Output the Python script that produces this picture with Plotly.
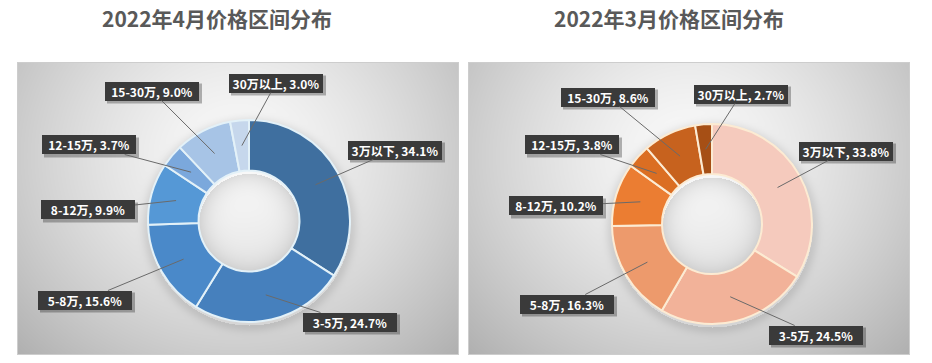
import base64, struct, zlib, math
import numpy as np
import plotly.graph_objects as go

# ---------------- data ----------------
categories = ["3万以下", "3-5万", "5-8万", "8-12万", "12-15万", "15-30万", "30万以上"]
apr_values = [34.1, 24.7, 15.6, 9.9, 3.7, 9.0, 3.0]
mar_values = [33.8, 24.5, 16.3, 10.2, 3.8, 8.6, 2.7]
titles = ["2022年4月价格区间分布", "2022年3月价格区间分布"]

# ---------------- style / layout ----------------
W, H = 932, 363
blue_colors = ["#3F6F9F", "#4680BD", "#4A89C9", "#5598D6", "#7BA8DC", "#A7C4E6", "#C6D7EC"]
orange_colors = ["#F5CABD", "#F2B299", "#ED9A6C", "#EB7D32", "#DB6E22", "#C7621E", "#A64F15"]
HOLE = 0.5

panels = [
    dict(values=apr_values, colors=blue_colors, border="#E3F1F8", title=titles[0],
         title_xy=(217, 18), box=(17, 62, 458, 354), center=(249, 221), R=101,
         labels_xy=[(395, 150), (350, 322), (85, 300), (88, 210), (89, 145), (152, 91), (276, 83)]),
    dict(values=mar_values, colors=orange_colors, border="#FCEBD3", title=titles[1],
         title_xy=(669, 18), box=(468, 62, 909, 354), center=(712, 224), R=100,
         labels_xy=[(846, 151), (816, 335), (567, 304), (556, 206), (572, 145), (608, 97), (741, 94)]),
]

# ---------------- background image (gradient boxes) ----------------
img = np.full((H, W, 3), 255.0)
yy, xx = np.mgrid[0:H, 0:W].astype(float)
for p in panels:
    x0, y0, x1, y1 = p["box"]
    bw, bh = x1 - x0, y1 - y0
    cx, cy = x0 + bw * 0.5, y0 + bh * 0.32
    d = np.sqrt(((xx - cx) / (bw * 0.62)) ** 2 + ((yy - cy) / (bh * 0.85)) ** 2)
    val = 250 - 62 * np.clip(d, 0, 1.2) ** 1.4
    pcx, pcy = p["center"]
    r = np.sqrt((xx - pcx) ** 2 + (yy - pcy - 3) ** 2)
    R = p["R"]
    outer = np.where(r > R, 22 * np.exp(-((r - R) / 7.0) ** 2), 0)
    rin = R * HOLE
    inner = np.where(r < rin, 28 * (np.clip(r / rin, 0, 1) ** 4), 0)
    val = val - outer - inner
    mask = (xx >= x0) & (xx <= x1) & (yy >= y0) & (yy <= y1)
    for c in range(3):
        img[..., c] = np.where(mask, val, img[..., c])
    edge = mask & ((xx == x0) | (xx == x1) | (yy == y0) | (yy == y1))
    for c in range(3):
        img[..., c] = np.where(edge, 205, img[..., c])
img = np.clip(img, 0, 255).astype(np.uint8)


def to_png(arr):
    h, w, _ = arr.shape
    raw = b"".join(b"\x00" + arr[i].tobytes() for i in range(h))

    def chunk(t, data):
        c = struct.pack(">I", len(data)) + t + data
        return c + struct.pack(">I", zlib.crc32(t + data) & 0xFFFFFFFF)

    return (b"\x89PNG\r\n\x1a\n" + chunk(b"IHDR", struct.pack(">IIBBBBB", w, h, 8, 2, 0, 0, 0))
            + chunk(b"IDAT", zlib.compress(raw, 9)) + chunk(b"IEND", b""))


bg_uri = "data:image/png;base64," + base64.b64encode(to_png(img)).decode()

# ---------------- figure ----------------
fig = go.Figure()
annotations = []
shapes = []
FONT = "Noto Sans CJK SC, Noto Sans, sans-serif"
LW, LH = 94, 19

for p in panels:
    cx, cy = p["center"]
    R = p["R"]
    fig.add_trace(go.Pie(
        labels=categories, values=p["values"], hole=HOLE, sort=False,
        direction="clockwise", rotation=0, textinfo="none", hoverinfo="label+value",
        marker=dict(colors=p["colors"], line=dict(color=p["border"], width=2)),
        domain=dict(x=[(cx - R) / W, (cx + R) / W], y=[1 - (cy + R) / H, 1 - (cy - R) / H]),
        showlegend=False,
    ))
    tx, ty = p["title_xy"]
    annotations.append(dict(
        text="<b>" + p["title"] + "</b>", x=tx / W, y=1 - ty / H, xref="paper", yref="paper",
        showarrow=False, font=dict(family=FONT, size=21, color="#595959"),
        xanchor="center", yanchor="middle"))
    total = sum(p["values"])
    cum = 0.0
    rmid = R * (1 + HOLE) / 2
    for cat, v, (lx, ly) in zip(categories, p["values"], p["labels_xy"]):
        ang = 2 * math.pi * (cum + v / 2) / total
        cum += v
        px = cx + rmid * math.sin(ang)
        py = cy - rmid * math.cos(ang)
        shapes.append(dict(type="rect", xref="paper", yref="paper",
                           x0=(lx - LW / 2 + 2) / W, x1=(lx + LW / 2 + 3) / W,
                           y0=1 - (ly + LH / 2 + 3) / H, y1=1 - (ly - LH / 2 + 2) / H,
                           fillcolor="rgba(0,0,0,0.28)", line=dict(width=0), layer="above"))
        annotations.append(dict(
            text="<b>%s, %.1f%%</b>" % (cat, v), x=px / W, y=1 - py / H, xref="paper", yref="paper",
            axref="pixel", ayref="pixel", ax=lx - px, ay=ly - py, showarrow=True, arrowhead=0,
            arrowwidth=1, arrowcolor="#6A6A6A", standoff=0,
            font=dict(family=FONT, size=12, color="white"), bgcolor="#3A3A3A",
            width=LW, height=LH, borderpad=0, borderwidth=0, align="center", valign="middle"))

fig.update_layout(
    width=W, height=H, margin=dict(l=0, r=0, t=0, b=0),
    paper_bgcolor="white", plot_bgcolor="white",
    images=[dict(source=bg_uri, xref="paper", yref="paper", x=0, y=1, sizex=1, sizey=1,
                 xanchor="left", yanchor="top", sizing="stretch", layer="below")],
    annotations=annotations, shapes=shapes,
)
fig.write_html("out.html", config={"displayModeBar": False},
               post_script="document.body.style.margin='0';document.body.style.overflow='hidden';")
